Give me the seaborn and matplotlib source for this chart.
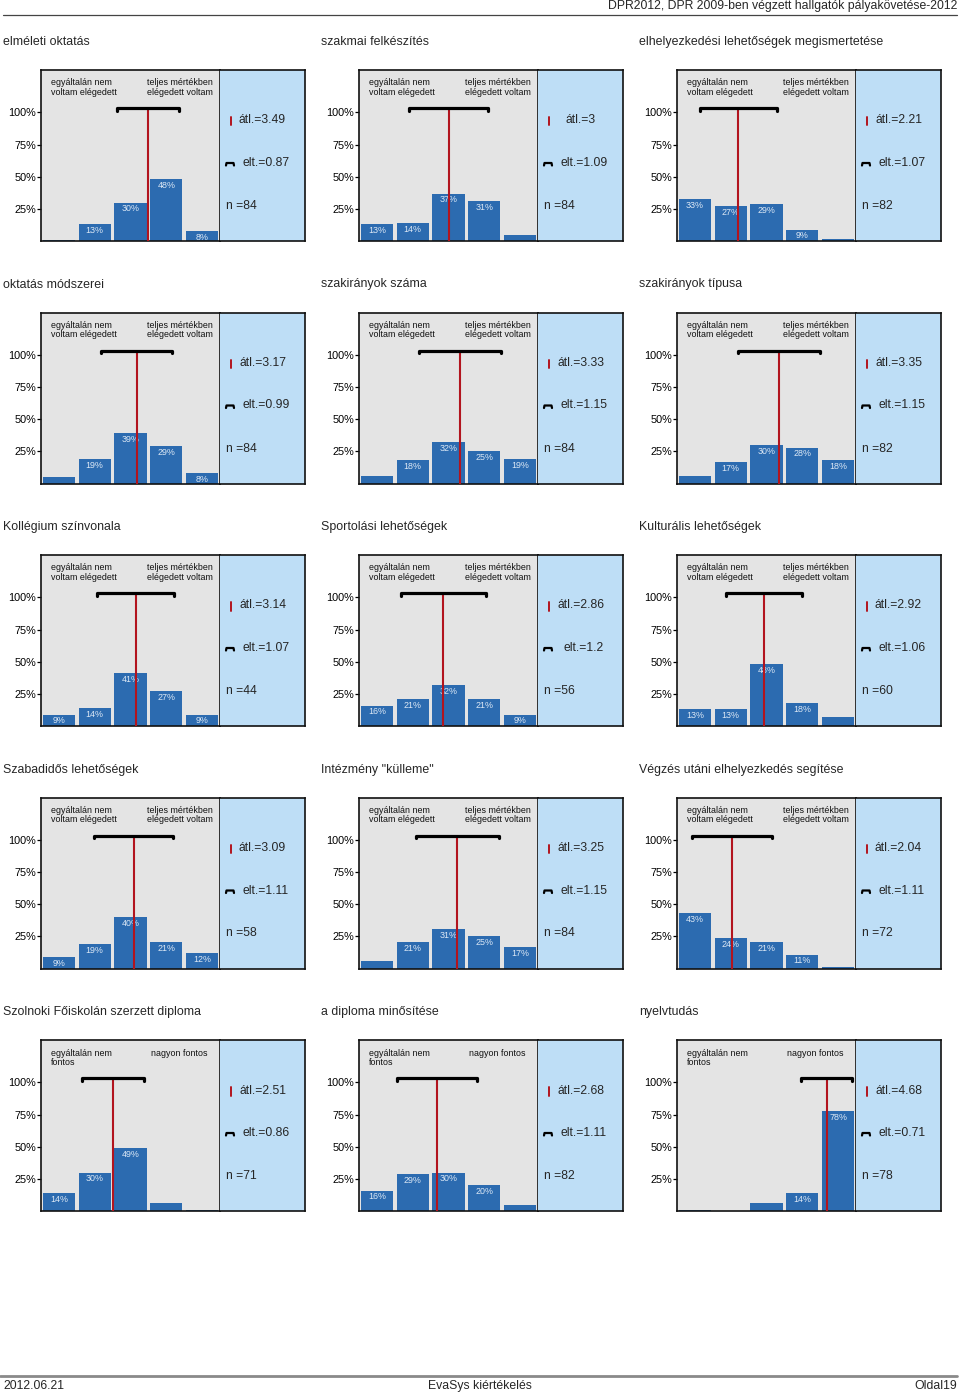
import matplotlib
matplotlib.use("Agg")
import matplotlib.pyplot as plt
from matplotlib.lines import Line2D
import seaborn as sns
import pandas as pd

# ---------------- data ----------------
titles = [
    "elméleti oktatás", "szakmai felkészítés", "elhelyezkedési lehetőségek megismertetése",
    "oktatás módszerei", "szakirányok száma", "szakirányok típusa",
    "Kollégium színvonala", "Sportolási lehetőségek", "Kulturális lehetőségek",
    "Szabadidős lehetőségek", "Intézmény \"külleme\"", "Végzés utáni elhelyezkedés segítése",
    "Szolnoki Főiskolán szerzett diploma", "a diploma minősítése", "nyelvtudás",
]
left_labels = ["egyáltalán nem\nvoltam elégedett"] * 12 + ["egyáltalán nem\nfontos"] * 3
right_labels = ["teljes mértékben\nelégedett voltam"] * 12 + ["nagyon fontos"] * 3
categories = ["1", "2", "3", "4", "5"]
percentages = [
    [1, 13, 30, 48, 8],
    [13, 14, 37, 31, 5],
    [33, 27, 29, 9, 2],
    [5, 19, 39, 29, 8],
    [6, 18, 32, 25, 19],
    [6, 17, 30, 28, 18],
    [9, 14, 41, 27, 9],
    [16, 21, 32, 21, 9],
    [13, 13, 48, 18, 7],
    [9, 19, 40, 21, 12],
    [6, 21, 31, 25, 17],
    [43, 24, 21, 11, 1],
    [14, 30, 49, 6, 1],
    [16, 29, 30, 20, 5],
    [1, 0, 6, 14, 78],
]
means = [3.49, 3, 2.21, 3.17, 3.33, 3.35, 3.14, 2.86, 2.92, 3.09, 3.25, 2.04, 2.51, 2.68, 4.68]
sds = [0.87, 1.09, 1.07, 0.99, 1.15, 1.15, 1.07, 1.2, 1.06, 1.11, 1.15, 1.11, 0.86, 1.11, 0.71]
ns = [84, 84, 82, 84, 84, 82, 44, 56, 60, 58, 84, 72, 71, 82, 78]
yticks = [25, 50, 75, 100]
ytick_labels = ["25%", "50%", "75%", "100%"]

header_text = "DPR2012, DPR 2009-ben végzett hallgatók pályakövetése-2012"
footer_left = "2012.06.21"
footer_mid = "EvaSys kiértékelés"
footer_right = "Oldal19"

# ---------------- style ----------------
sns.set_style("white")
plt.rcParams["font.family"] = ["Liberation Sans", "DejaVu Sans"]

BAR = "#2c6bb0"
GRAY = "#e4e4e4"
BLUE = "#bedef6"
RED = "#b2141e"
LBL = "#dce8f5"

W, H = 960, 1395
fig = plt.figure(figsize=(W / 100, H / 100), dpi=100)
fig.patch.set_facecolor("white")


def fx(x):
    return x / W


def fy(y):
    return 1 - y / H


# header / footer
fig.text(fx(957), fy(6), header_text, ha="right", va="center", fontsize=8.8)
fig.add_artist(Line2D([fx(3), fx(957)], [fy(15), fy(15)], color="#444444", lw=0.9))
fig.add_artist(Line2D([fx(0), fx(957)], [fy(1376), fy(1376)], color="#8a8a8a", lw=2.0))
fig.text(fx(3), fy(1386), footer_left, ha="left", va="center", fontsize=8.8)
fig.text(fx(480), fy(1386), footer_mid, ha="center", va="center", fontsize=8.8)
fig.text(fx(957), fy(1386), footer_right, ha="right", va="center", fontsize=8.8)

GW, BW, BH = 179.0, 85.0, 171.2
YMAX = BH / 128.9 * 100

for k in range(15):
    r, c = divmod(k, 3)
    left = 41 + 318 * c
    top = 70 + 242.5 * r
    bottom = top + BH

    fig.text(fx(3 + 318 * c), fy(top - 28), titles[k], ha="left", va="center", fontsize=8.9)

    ax = fig.add_axes([fx(left), fy(bottom), GW / W, BH / H])
    ax.set_facecolor(GRAY)
    df = pd.DataFrame({"cat": categories, "pct": percentages[k]})
    sns.barplot(data=df, x="cat", y="pct", order=categories, ax=ax, color=BAR,
                width=0.9, saturation=1, linewidth=0, errorbar=None, zorder=2)
    ax.set_xlim(-0.5, 4.5)
    ax.set_ylim(0, YMAX)
    ax.set_xlabel("")
    ax.set_ylabel("")
    ax.set_xticks([])
    ax.set_yticks(yticks)
    ax.set_yticklabels(ytick_labels)
    ax.tick_params(axis="y", direction="out", length=3.2, width=0.9, pad=0.5,
                   labelsize=7.8, left=True, colors="black")
    for s in ax.spines.values():
        s.set_visible(True)
        s.set_color("#111111")
        s.set_linewidth(1.2)

    for i, v in enumerate(percentages[k]):
        if v >= 8:
            ax.annotate(f"{v}%", (i, v), xytext=(0, -4.6), textcoords="offset points",
                        ha="center", va="center", fontsize=6.4, color=LBL, zorder=3)

    m = means[k] - 1
    sd = sds[k]
    ax.plot([m, m], [0, 103], color=RED, lw=1.5, zorder=4, solid_capstyle="butt")
    ax.plot([m - sd, m - sd, m + sd, m + sd], [101.2, 103, 103, 101.2], color="black",
            lw=2.3, zorder=5, solid_capstyle="round", solid_joinstyle="round")

    ax.text(9.7 / GW, 1 - 8.5 / BH, left_labels[k], transform=ax.transAxes,
            ha="left", va="top", fontsize=6.4, linespacing=1.05, color="#111111")
    ax.text(138.5 / GW, 1 - 8.5 / BH,
            right_labels[k], transform=ax.transAxes,
            ha="center", va="top", fontsize=6.4, linespacing=1.05, color="#111111")

    # statistics box
    bx = fig.add_axes([fx(left + GW), fy(bottom), BW / W, BH / H])
    bx.set_facecolor(BLUE)
    bx.set_xlim(0, BW)
    bx.set_ylim(BH, 0)
    bx.set_xticks([])
    bx.set_yticks([])
    for name, s in bx.spines.items():
        s.set_color("#111111")
        s.set_linewidth(1.2)
        if name == "left":
            s.set_visible(False)
    bx.plot([10.5, 10.5], [47, 55.5], color=RED, lw=1.4)
    bx.text(42.5, 50.5, f"átl.={means[k]:g}", ha="center", va="center", fontsize=8.7)
    bx.plot([6, 6.5, 13.5, 14], [95.5, 93, 93, 95.5], color="black", lw=1.6,
            solid_capstyle="round", solid_joinstyle="round")
    bx.text(46, 93, f"elt.={sds[k]:g}", ha="center", va="center", fontsize=8.7)
    bx.text(5.5, 136, f"n ={ns[k]}", ha="left", va="center", fontsize=8.7)

fig.savefig("out.png", dpi=100, facecolor="white")
